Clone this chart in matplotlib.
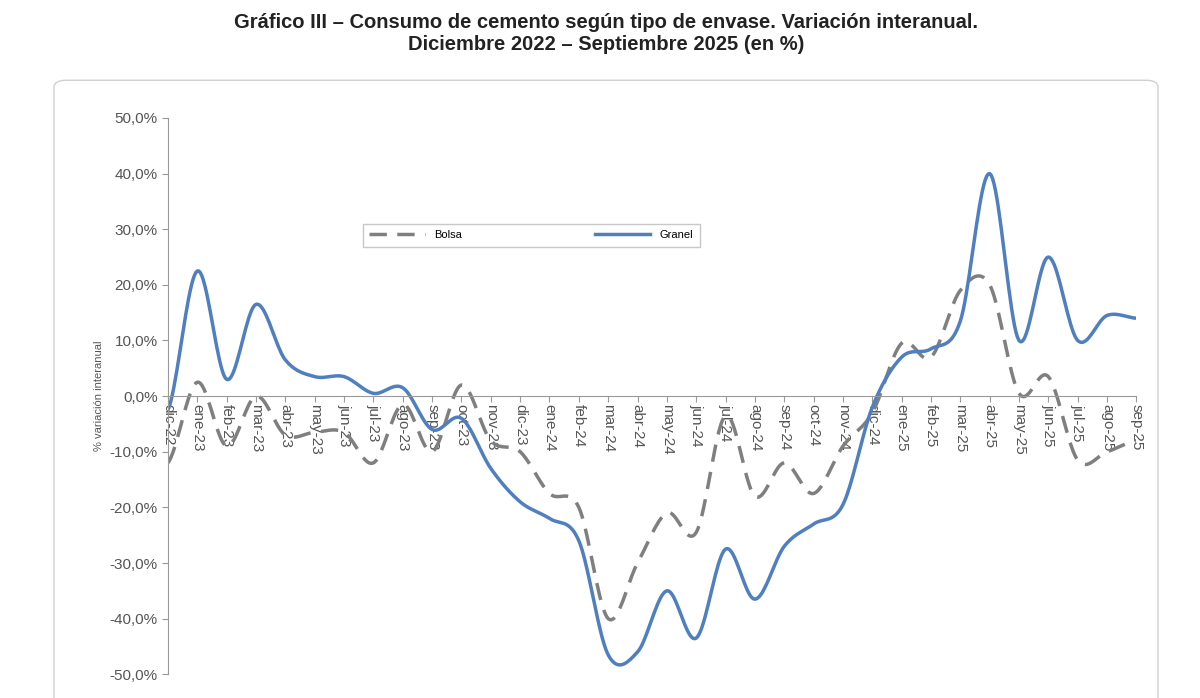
import matplotlib.pyplot as plt
import numpy as np
from matplotlib.patches import FancyBboxPatch

plt.rcParams['font.family'] = ['Liberation Sans', 'DejaVu Sans']

meses = ['dic-22', 'ene-23', 'feb-23', 'mar-23', 'abr-23', 'may-23', 'jun-23', 'jul-23', 'ago-23',
         'sep-23', 'oct-23', 'nov-23', 'dic-23', 'ene-24', 'feb-24', 'mar-24', 'abr-24', 'may-24',
         'jun-24', 'jul-24', 'ago-24', 'sep-24', 'oct-24', 'nov-24', 'dic-24', 'ene-25', 'feb-25',
         'mar-25', 'abr-25', 'may-25', 'jun-25', 'jul-25', 'ago-25', 'sep-25']
granel = [-2.5, 22.5, 3, 16.5, 6.5, 3.5, 3.5, 0.5, 1.5, -6, -4, -13, -19, -22, -26, -46.5, -46,
          -35, -43.5, -27.5, -36.5, -27, -23, -19.5, -2, 7, 8.5, 13.5, 40, 10, 25, 10, 14.5, 14]
bolsa = [-12, 2.5, -9, 0, -7, -6.5, -6.5, -12, -1.5, -10, 2, -8, -10, -17.5, -20, -40, -30, -21,
         -24.5, -3.5, -18, -12, -17.5, -9, -3, 9.5, 7, 19, 20, 0.5, 3.5, -11.5, -10, -8]


def suave(y, n=20):
    # Catmull-Rom para imitar las lineas suavizadas de Excel
    y = np.asarray(y, float)
    p = np.concatenate([[y[0]], y, [y[-1]]])
    xs, ys = [], []
    for i in range(len(y) - 1):
        p0, p1, p2, p3 = p[i], p[i + 1], p[i + 2], p[i + 3]
        t = np.linspace(0, 1, n, endpoint=False)
        ys.append(0.5 * (2 * p1 + (-p0 + p2) * t + (2 * p0 - 5 * p1 + 4 * p2 - p3) * t ** 2
                         + (-p0 + 3 * p1 - 3 * p2 + p3) * t ** 3))
        xs.append(i + t)
    xs.append([len(y) - 1]); ys.append([y[-1]])
    return np.concatenate(xs), np.concatenate(ys)


fig = plt.figure(figsize=(12, 6.98), dpi=100)
fig.patches.append(FancyBboxPatch((0.045, -0.05), 0.92, 0.935, boxstyle='round,pad=0,rounding_size=0.01',
                                  transform=fig.transFigure, fill=False, ec='#d0d0d0', lw=1))
fig.text(0.505, 0.952, 'Gráfico III – Consumo de cemento según tipo de envase. Variación interanual.\n'
         'Diciembre 2022 – Septiembre 2025 (en %)', ha='center', va='center',
         fontsize=14.5, fontweight='bold', color='#222222', linespacing=1.25)

ax = fig.add_axes([0.14, 0.034, 0.807, 0.797])
x = np.arange(len(meses))
xb, yb = suave(bolsa)
xg, yg = suave(granel)
ax.plot(xb, yb, color='#7f7f7f', lw=2.5, dashes=(5, 3), label='Bolsa')
ax.plot(xg, yg, color='#4f7fbf', lw=2.5, label='Granel')

ax.spines['bottom'].set_position(('data', 0))
ax.spines['bottom'].set_color('#999999')
ax.spines['left'].set_color('#999999')
ax.spines['top'].set_visible(False)
ax.spines['right'].set_visible(False)
ax.set_xlim(0, 33)
ax.set_ylim(-50, 50)
ax.set_yticks(np.arange(-50, 51, 10))
ax.set_yticklabels([f'{v},0%' for v in range(-50, 51, 10)], fontsize=11, color='#555555')
ax.set_xticks(x)
ax.set_xticklabels(meses, rotation=270, fontsize=11, color='#555555')
ax.tick_params(axis='x', length=4, color='#999999', pad=2)
ax.tick_params(axis='y', length=4, color='#999999')
ax.set_ylabel('% variación interanual', fontsize=8, color='#555555')
ax.legend(loc='upper center', bbox_to_anchor=(0.375, 0.82), ncol=2, fancybox=False,
          edgecolor='#bbbbbb', fontsize=8, handlelength=5, columnspacing=12, borderpad=0.6)

fig.savefig('out.png')
